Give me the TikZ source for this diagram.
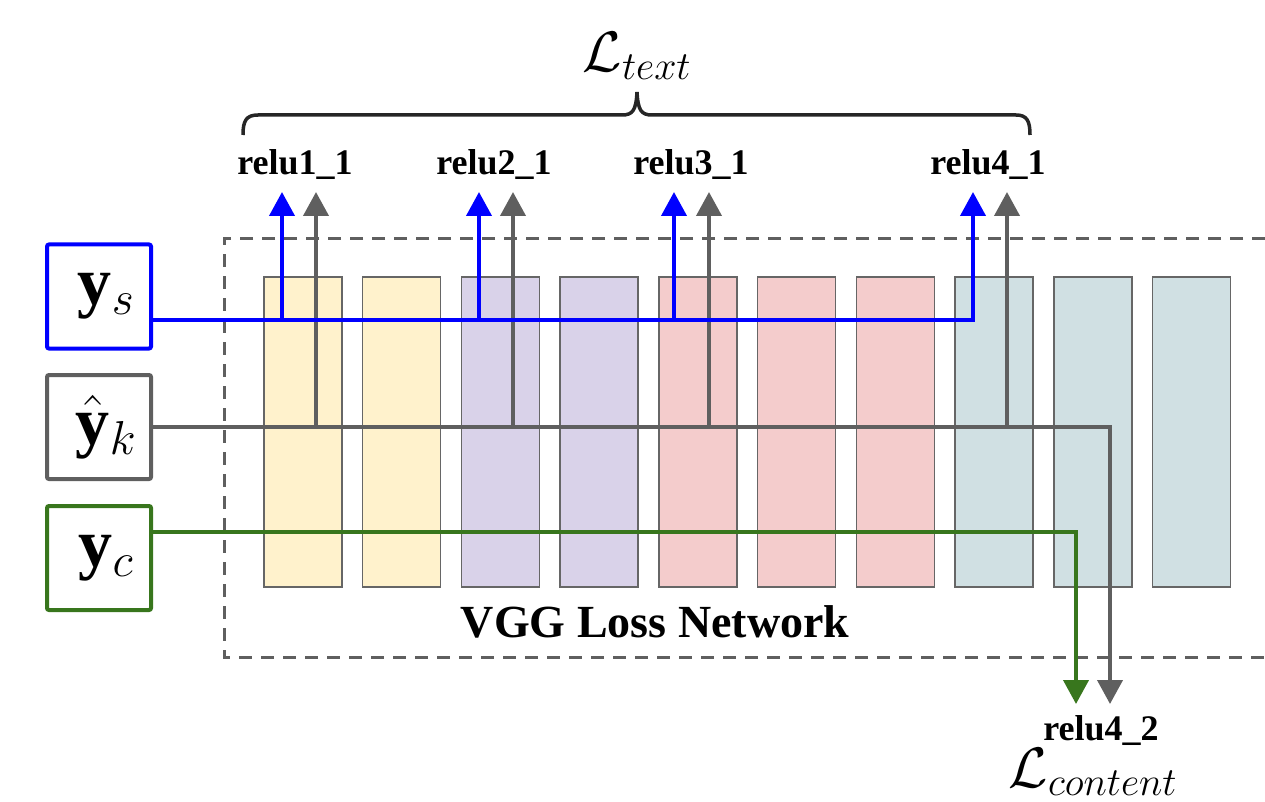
\RequirePackage{fix-cm}
\documentclass[tikz,border=0pt]{standalone}
\usepackage{fontspec}
\setmainfont{Liberation Serif}
\usetikzlibrary{arrows.meta}
\definecolor{cblue}{HTML}{0000FF}
\definecolor{cgrey}{HTML}{5F5F5F}
\definecolor{cgreen}{HTML}{38761D}
\definecolor{cyel}{HTML}{FFF2CC}
\definecolor{cpur}{HTML}{D9D2E9}
\definecolor{cpink}{HTML}{F4CCCC}
\definecolor{ccyan}{HTML}{D0E0E3}
\definecolor{cedge}{HTML}{666666}
\begin{document}
\begin{tikzpicture}[x=1pt,y=1pt,
  inbox/.style={draw, line width=4pt, rounded corners=2pt, minimum width=104pt, minimum height=104pt, inner sep=0pt, font=\fontsize{68}{76}\selectfont},
  layer/.style={draw=cedge, line width=1.5pt, minimum width=78pt, minimum height=310pt, inner sep=0pt, anchor=north west},
  relulab/.style={font=\fontsize{36}{40}\selectfont\bfseries, inner sep=0pt},
  wire/.style={line width=4pt},
  tip/.style={-{Triangle[length=24pt,width=25pt]}},
  losslab/.style={font=\fontsize{57}{64}\selectfont, inner sep=0pt}
]
\useasboundingbox (0,0) rectangle (1265,-802);

% layers
\foreach \i/\c in {0/cyel,1/cyel,2/cpur,3/cpur,4/cpink,5/cpink,6/cpink,7/ccyan,8/ccyan,9/ccyan}{
  \node[layer, fill=\c] (L\i) at ({263+98.75*\i},-276) {};
}

% dashed network frame
\coordinate (fTR) at (1265,-239);
\coordinate (fTL) at (224,-239);
\coordinate (fBL) at (224,-657);
\coordinate (fBR) at (1265,-657);
\draw[cgrey, line width=3pt, dash pattern=on 13pt off 9pt] (fTR) -- (fTL) -- (fBL) -- (fBR);
\node[font=\fontsize{46}{50}\selectfont\bfseries, inner sep=0pt] (vgg) at (655,-622) {VGG Loss Network};

% input boxes
\node[inbox, draw=cblue] (ys) at (99,-296.5) {\hspace*{14pt}$\mathbf{y}_s$};
\node[inbox, draw=cgrey] (yk) at (99,-427) {\hspace*{14pt}$\hat{\mathbf{y}}_k$};
\node[inbox, draw=cgreen] (yc) at (99,-558) {\hspace*{14pt}$\mathbf{y}_c$};

% output labels
\node[relulab] (r11) at (295,-165) {relu1\_1};
\node[relulab] (r21) at (494,-165) {relu2\_1};
\node[relulab] (r31) at (691,-165) {relu3\_1};
\node[relulab] (r41) at (988,-165) {relu4\_1};
\node[relulab] (r42) at (1101,-731) {relu4\_2};
\node[losslab] (ltext) at (637,-56) {$\mathcal{L}_{text}$};
\node[losslab] (lcont) at (1093,-772) {$\mathcal{L}_{content}$};

% brace
\draw[line width=3.5pt, black!85] (243,-135) .. controls (243,-121) and (246,-115) .. (258,-115)
  -- (622,-115) .. controls (633,-115) and (636,-110) .. (637,-92)
  .. controls (638,-110) and (641,-115) .. (652,-115)
  -- (1016,-115) .. controls (1027,-115) and (1030,-121) .. (1030,-135);

% grey (y_k) wires
\coordinate (gk1) at (316,-427);
\coordinate (gk2) at (513,-427);
\coordinate (gk3) at (709,-427);
\coordinate (gk4) at (1007,-427);
\coordinate (gkc) at (1110,-427);
\coordinate (gu1) at (316,-192);
\coordinate (gu2) at (513,-192);
\coordinate (gu3) at (709,-192);
\coordinate (gu4) at (1007,-192);
\coordinate (gd) at (1110,-704);
\draw[wire, cgrey, tip] (yk.east) -- (gkc) -- (gd);
\foreach \k in {1,2,3,4}{ \draw[wire, cgrey, tip] (gk\k) -- (gu\k); }

% green (y_c) wire
\coordinate (gc) at (1076,-532);
\coordinate (gcd) at (1076,-704);
\draw[wire, cgreen, tip] (yc.east |- gc) -- (gc) -- (gcd);

% blue (y_s) wires
\coordinate (bs1) at (282,-320);
\coordinate (bs2) at (479,-320);
\coordinate (bs3) at (674,-320);
\coordinate (bs4) at (973,-320);
\coordinate (bu1) at (282,-192);
\coordinate (bu2) at (479,-192);
\coordinate (bu3) at (674,-192);
\coordinate (bu4) at (973,-192);
\foreach \k in {1,2,3}{ \draw[wire, cblue, tip] (bs\k) -- (bu\k); }
\draw[wire, cblue, tip] (ys.east |- bs4) -- (bs4) -- (bu4);
\end{tikzpicture}
\end{document}
